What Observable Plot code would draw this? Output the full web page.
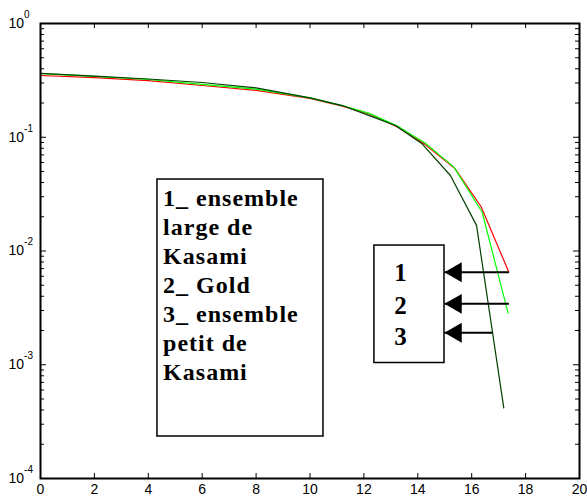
<!DOCTYPE html>
<html><head><meta charset="utf-8">
<script src="https://cdn.jsdelivr.net/npm/d3@7"></script>
<script src="https://cdn.jsdelivr.net/npm/@observablehq/plot@0.6"></script>
<style>body{margin:0;background:#fff}</style>
</head><body><div id="chart"></div>
<script>
// 1_ ensemble large de Kasami (red)
const xLarge  = [0, 2, 4, 6, 8, 10, 11.2, 12.2, 13.23, 14.25, 15.38, 16.35, 17.38];
const berLarge = [0.349, 0.335, 0.315, 0.285, 0.258, 0.22, 0.188, 0.16, 0.124, 0.087, 0.053, 0.0245, 0.0065];
// 2_ Gold (green)
const xGold   = [0, 2, 4, 6, 8, 10, 11.2, 12.2, 13.23, 14.28, 15.34, 16.39, 17.35];
const berGold = [0.362, 0.343, 0.322, 0.292, 0.265, 0.222, 0.19, 0.162, 0.126, 0.0885, 0.0546, 0.0219, 0.00284];
// 3_ ensemble petit de Kasami (dark green)
const xSmall  = [0, 2, 4, 6, 8, 10, 11.2, 12.2, 13.17, 14.16, 15.21, 16.18, 17.19];
const berSmall = [0.365, 0.345, 0.325, 0.303, 0.272, 0.222, 0.19, 0.155, 0.127, 0.0875, 0.0461, 0.0168, 0.000418];

const xTicks = [0, 2, 4, 6, 8, 10, 12, 14, 16, 18, 20];
const yDecades = [1e-4, 1e-3, 1e-2, 1e-1, 1];
const legendLines = ["1_ ensemble", "large de", "Kasami", "2_ Gold", "3_ ensemble", "petit de", "Kasami"];
const arrowLabels = ["1", "2", "3"];

const W = 587, H = 499, mL = 40, mR = 8, mT = 23, mB = 21;
const fw = W - mL - mR, fh = H - mT - mB;
const minors = [];
for (let e = -4; e < 0; e++) for (let m = 2; m <= 9; m++) minors.push(m * 10 ** e);

// annotation placement (data coordinates)
const bigBox = {x1: 4.34, x2: 10.5, y1: 0.0425, y2: 0.000234};
const smallBox = {x1: 12.39, x2: 14.99, y1: 0.01117, y2: 0.001036};
const labelYs = [0.00638, 0.0033, 0.00175];
const arrows = [
  {x1: 17.38, y: 0.00651},
  {x1: 17.38, y: 0.00343},
  {x1: 16.76, y: 0.00191}
];

const pts = (xs, ys) => xs.map((x, i) => ({x, y: ys[i]}));

const chart = Plot.plot({
  width: W, height: H,
  marginLeft: mL, marginRight: mR, marginTop: mT, marginBottom: mB,
  x: {domain: [0, 20]},
  y: {type: "log", domain: [1e-4, 1]},
  style: {fontFamily: "'Liberation Sans', Arial, sans-serif", fontSize: "14px", color: "#000", background: "#fff"},
  marks: [
    Plot.axisX(xTicks, {tickSize: 0, tickPadding: 6, fontSize: 14}),
    Plot.axisY(yDecades, {tickSize: 0, tickPadding: 32, textAnchor: "start", fontSize: 14,
      tickFormat: d => String(Math.round(Math.log10(d)))}),
    Plot.tickX(xTicks, {x: d => d, insetTop: fh - 5, stroke: "#000"}),
    Plot.tickX(xTicks, {x: d => d, insetBottom: fh - 5, stroke: "#000"}),
    Plot.tickY(yDecades, {y: d => d, insetRight: fw - 6, stroke: "#000"}),
    Plot.tickY(yDecades, {y: d => d, insetLeft: fw - 6, stroke: "#000"}),
    Plot.tickY(minors, {y: d => d, insetRight: fw - 4, stroke: "#000"}),
    Plot.tickY(minors, {y: d => d, insetLeft: fw - 4, stroke: "#000"}),
    Plot.line(pts(xLarge, berLarge), {x: "x", y: "y", stroke: "#ff0000", strokeWidth: 1.2}),
    Plot.line(pts(xGold, berGold), {x: "x", y: "y", stroke: "#00ff00", strokeWidth: 1.2}),
    Plot.line(pts(xSmall, berSmall), {x: "x", y: "y", stroke: "#004000", strokeWidth: 1.2}),
    Plot.rect([bigBox], {x1: "x1", x2: "x2", y1: "y1", y2: "y2", fill: "none", stroke: "#000", strokeWidth: 1.5}),
    Plot.text([legendLines.join("\n")], {x: 4.55, y: 0.00518, text: d => d, textAnchor: "start",
      lineAnchor: "middle", lineHeight: 1.21, fontFamily: "'Liberation Serif', 'Times New Roman', serif",
      fontWeight: "bold", fontSize: 24, fill: "#000", className: "legend-text"}),
    Plot.rect([smallBox], {x1: "x1", x2: "x2", y1: "y1", y2: "y2", fill: "none", stroke: "#000", strokeWidth: 1.5}),
    Plot.text(arrowLabels, {x: 13.36, y: (d, i) => labelYs[i], text: d => d, textAnchor: "middle",
      fontFamily: "'Liberation Serif', 'Times New Roman', serif", fontWeight: "bold", fontSize: 25, fill: "#000"}),
    Plot.link(arrows, {x1: "x1", x2: smallBox.x2, y1: "y", y2: "y", stroke: "#000", strokeWidth: 2}),
    Plot.dot(arrows, {x: smallBox.x2, y: "y", symbol: "triangle", rotate: -90, r: 7.4, fill: "#000", stroke: "none", dx: 11.5}),
    Plot.frame({stroke: "#000", strokeWidth: 2})
  ]
});

d3.select(chart).selectAll('g[aria-label="y-axis tick label"] text').each(function () {
  const e = this.textContent;
  this.textContent = "10";
  d3.select(this).append("tspan").attr("dy", "-10").attr("font-size", "10px").text(e);
});
d3.select(chart).selectAll('.legend-text text').style("letter-spacing", "1px");

document.getElementById("chart").appendChild(chart);
</script>
</body></html>
